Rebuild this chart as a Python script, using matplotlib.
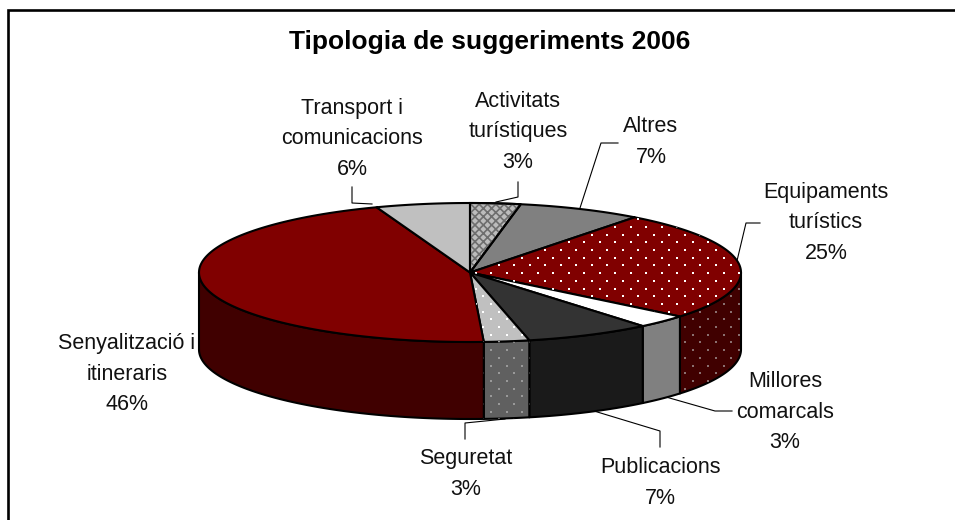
import matplotlib
matplotlib.use("Agg")
from matplotlib import pyplot as plt
from matplotlib.patches import Polygon
import numpy as np

plt.rcParams['font.family'] = ['Liberation Sans', 'DejaVu Sans']
plt.rcParams['hatch.linewidth'] = 1.2

categories = ["Activitats\nturístiques", "Altres", "Equipaments\nturístics", "Millores\ncomarcals",
              "Publicacions", "Seguretat", "Senyalització i\nitineraris", "Transport i\ncomunicacions"]
values = [3.0, 7.4, 25.49, 3.1, 7.49, 2.7, 45.2, 5.6]
percent_labels = ["3%", "7%", "25%", "3%", "7%", "3%", "46%", "6%"]
top_colors = ["#bcbcbc", "#808080", "#800000", "#ffffff", "#333333", "#c0c0c0", "#800000", "#c0c0c0"]
side_colors = ["#4b4b4b", "#404040", "#400000", "#808080", "#1a1a1a", "#606060", "#400000", "#606060"]
hatches = ["xxxx", None, "dots", None, None, "dots", None, None]
hatch_top = ["#6e6e6e", None, "#ffffff", None, None, "#ffffff", None, None]
hatch_side = [None, None, "#8a7070", None, None, "#999999", None, None]

# label centre (pixels) and leader line for each slice
label_xy = [(518, 132), (651, 142), (826, 223), (785, 412), (660, 483), (466, 474), (127, 374), (352, 139)]
leaders = [[(496, 202), (518, 197), (518, 182)],
           [(580, 208), (601, 143), (618, 143)],
           [(736, 265), (746, 223), (760, 223)],
           [(666, 397), (715, 411), (732, 411)],
           [(594, 411), (660, 431), (660, 447)],
           [(505, 419), (465, 423), (465, 439)],
           [],
           [(372, 204), (352, 203), (352, 187)]]

cx, cy, rx, ry, depth = 470, 272.5, 271, 69.5, 77


def arc_points(a0, a1):
    # angles clockwise from the top of the pie, in degrees
    t = np.radians(np.linspace(a0, a1, max(int(abs(a1 - a0) * 2), 2)))
    return np.column_stack([cx + rx * np.sin(t), cy - ry * np.cos(t)])


def dots(ax, poly, color, size=4.5):
    xs, ys = [], []
    for j, y in enumerate(np.arange(150, 460, 7.7)):
        off = 7.75 if j % 2 else 0
        for x in np.arange(150 + off, 800, 15.5):
            xs.append(x)
            ys.append(y)
    sc = ax.scatter(xs, ys, s=size, c=color, marker="s", linewidths=0, zorder=poly.get_zorder() + 0.1)
    sc.set_clip_path(poly)


fig = plt.figure(figsize=(9.55, 5.2), dpi=100)
ax = fig.add_axes([0, 0, 1, 1])
ax.set_xlim(0, 955)
ax.set_ylim(520, 0)
ax.axis("off")

# frame only shows on the top and left, the picture is cropped on the other sides
ax.plot([7.5, 7.5, 955], [520, 9.5, 9.5], color="black", lw=1.9, zorder=0, solid_joinstyle="miter")

ends = np.cumsum(values) / np.sum(values) * 360
starts = np.concatenate([[0], ends[:-1]])

# side walls, only the part of each slice on the front half
for a0, a1, col, hc in zip(starts, ends, side_colors, hatch_side):
    lo, hi = max(a0, 90), min(a1, 270)
    if lo >= hi:
        continue
    top = arc_points(lo, hi)
    bottom = top[::-1] + [0, depth]
    wall = Polygon(np.vstack([top, bottom]), closed=True, fc=col, ec="black", lw=1.5, zorder=2, joinstyle="round")
    ax.add_patch(wall)
    if hc:
        dots(ax, wall, hc)

# top faces
for a0, a1, col, hatch, hc in zip(starts, ends, top_colors, hatches, hatch_top):
    pts = np.vstack([[cx, cy], arc_points(a0, a1)])
    face = Polygon(pts, closed=True, fc=col, ec="black", lw=1.5, zorder=3, joinstyle="round")
    ax.add_patch(face)
    if hatch == "dots":
        dots(ax, face, hc)
    elif hatch:
        over = Polygon(pts, closed=True, fc="none", ec=hc, lw=0, hatch=hatch, zorder=3.1)
        ax.add_patch(over)
        ax.add_patch(Polygon(pts, closed=True, fc="none", ec="black", lw=1.5, zorder=3.2))

ax.text(490, 42.5, "Tipologia de suggeriments 2006", fontsize=19, fontweight="bold", ha="center", va="center")

for name, pct, xy, line in zip(categories, percent_labels, label_xy, leaders):
    ax.text(xy[0], xy[1], name + "\n" + pct, fontsize=15.5, ha="center", va="center", linespacing=1.6, color="#111111")
    if line:
        ax.plot(*zip(*line), color="black", lw=0.8, zorder=1)

fig.savefig("out.png", dpi=100)
